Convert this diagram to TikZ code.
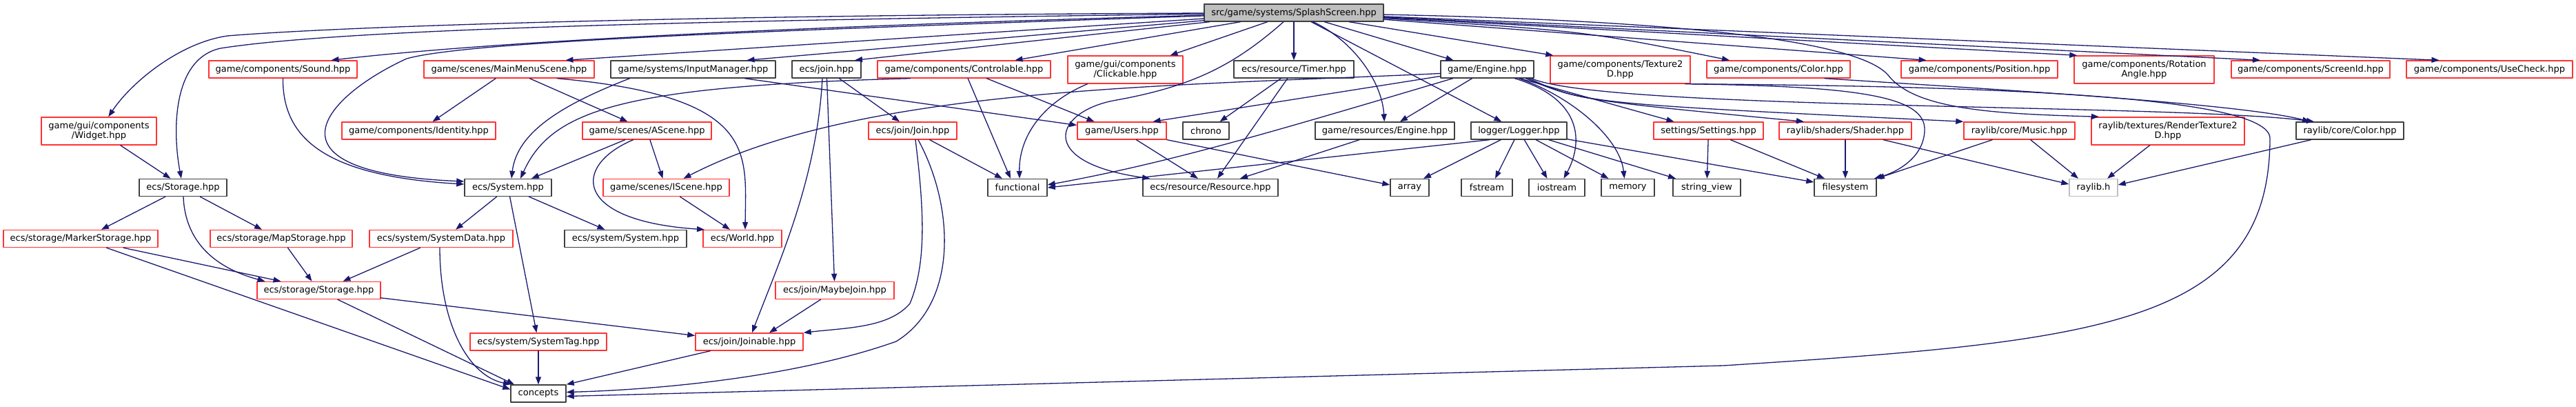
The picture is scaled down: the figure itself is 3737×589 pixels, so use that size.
\documentclass[tikz,border=0pt]{standalone}
\usepackage{fontspec}
\setmainfont{DejaVu Sans}
\usetikzlibrary{arrows.meta,backgrounds}
\definecolor{depblue}{HTML}{191970}
\definecolor{filered}{HTML}{FF3333}
\definecolor{fileblack}{HTML}{404040}
\definecolor{filegray}{HTML}{BFBFBF}

\begin{document}
\begin{tikzpicture}[
  line cap=round,
  line join=round,
  x=1pt,
  y=-1pt,
  show background rectangle,
  inner frame sep=0pt,
  background rectangle/.style={
    fill=white,
    draw=none,
  },
  filebox/.style={draw=fileblack, fill=white, line width=1.4pt, inner sep=0pt, minimum height=25pt, font=\fontsize{13}{14.5}\selectfont},
  redbox/.style={filebox, draw=filered},
  twoline/.style={minimum height=40pt, align=center},
  dep/.style={depblue, line width=1.3pt, -{Triangle[length=11pt,width=8pt]}},
]

  \useasboundingbox (0,0) rectangle (3737,589);

  \node[filebox, fill=filegray, minimum width=260pt] (root) at (1877,18.5) {src/game/systems/SplashScreen.hpp};

  \node[redbox, minimum width=215pt] (sound) at (410.5,100.5) {game/components/Sound.hpp};
  \node[redbox, minimum width=247pt] (mainmenu) at (738.5,100.5) {game/scenes/MainMenuScene.hpp};
  \node[filebox, minimum width=239pt] (input) at (1005.5,100.5) {game/systems/InputManager.hpp};
  \node[filebox, minimum width=100pt] (join) at (1199,100.5) {ecs/join.hpp};
  \node[redbox, minimum width=251pt] (ctrl) at (1398.5,100.5) {game/components/Controlable.hpp};
  \node[redbox, twoline, minimum width=167pt] (click) at (1632.5,101) {game/gui/components\\/Clickable.hpp};
  \node[filebox, minimum width=174pt] (timer) at (1877,100.5) {ecs/resource/Timer.hpp};
  \node[filebox, minimum width=135pt] (engine) at (2157.5,100.5) {game/Engine.hpp};
  \node[redbox, twoline, minimum width=203pt] (tex) at (2350.5,101) {game/components/Texture2\\D.hpp};
  \node[redbox, minimum width=208pt] (ccolor) at (2580,100.5) {game/components/Color.hpp};
  \node[redbox, minimum width=227pt] (pos) at (2871.5,100.5) {game/components/Position.hpp};
  \node[redbox, twoline, minimum width=203pt] (rot) at (3110.5,101) {game/components/Rotation\\Angle.hpp};
  \node[redbox, minimum width=230pt] (screen) at (3352,100.5) {game/components/ScreenId.hpp};
  \node[redbox, minimum width=241pt] (usecheck) at (3611.5,100.5) {game/components/UseCheck.hpp};

  \node[redbox, twoline, minimum width=167pt] (widget) at (143.5,190) {game/gui/components\\/Widget.hpp};
  \node[redbox, minimum width=223pt] (identity) at (607.5,189.5) {game/components/Identity.hpp};
  \node[redbox, minimum width=187pt] (ascene) at (938.5,189.5) {game/scenes/AScene.hpp};
  \node[redbox, minimum width=128pt] (joinj) at (1324,189.5) {ecs/join/Join.hpp};
  \node[redbox, minimum width=129pt] (users) at (1627.5,189.5) {game/Users.hpp};
  \node[filebox, minimum width=67pt] (chrono) at (1749.5,189.5) {chrono};
  \node[filebox, minimum width=202pt] (rengine) at (2009,189.5) {game/resources/Engine.hpp};
  \node[filebox, minimum width=139pt] (logger) at (2203.5,189.5) {logger/Logger.hpp};
  \node[redbox, minimum width=159pt] (settings) at (2478.5,189.5) {settings/Settings.hpp};
  \node[redbox, minimum width=192pt] (shader) at (2677,189.5) {raylib/shaders/Shader.hpp};
  \node[redbox, minimum width=161pt] (music) at (2929.5,189.5) {raylib/core/Music.hpp};
  \node[redbox, twoline, minimum width=222pt] (rtex) at (3145,190) {raylib/textures/RenderTexture2\\D.hpp};
  \node[filebox, minimum width=156pt] (rcolor) at (3409,189.5) {raylib/core/Color.hpp};

  \node[filebox, minimum width=127pt] (storage) at (265.5,272) {ecs/Storage.hpp};
  \node[filebox, minimum width=126pt] (system) at (737,272) {ecs/System.hpp};
  \node[redbox, minimum width=183pt] (iscene) at (966.5,272) {game/scenes/IScene.hpp};
  \node[filebox, minimum width=86pt] (functional) at (1476,272) {functional};
  \node[filebox, minimum width=196pt] (resource) at (1756,272) {ecs/resource/Resource.hpp};
  \node[filebox, minimum width=56pt] (array) at (2045,272) {array};
  \node[filebox, minimum width=74pt] (fstream) at (2157,272) {fstream};
  \node[filebox, minimum width=81pt] (iostream) at (2258.5,272) {iostream};
  \node[filebox, minimum width=77pt] (memory) at (2361.5,272) {memory};
  \node[filebox, minimum width=98pt] (stringview) at (2476,272) {string\_view};
  \node[filebox, minimum width=90pt] (filesystem) at (2677,272) {filesystem};
  \node[filebox, draw=filegray, minimum width=70pt] (raylibh) at (3037,272) {raylib.h};

  \node[redbox, minimum width=224pt] (marker) at (117,346) {ecs/storage/MarkerStorage.hpp};
  \node[redbox, minimum width=206pt] (map) at (408,346) {ecs/storage/MapStorage.hpp};
  \node[redbox, minimum width=208pt] (sysdata) at (640,346) {ecs/system/SystemData.hpp};
  \node[filebox, minimum width=177pt] (syssys) at (907.5,346) {ecs/system/System.hpp};
  \node[redbox, minimum width=114pt] (world) at (1077,346) {ecs/World.hpp};

  \node[redbox, minimum width=179pt] (sstorage) at (462.5,421) {ecs/storage/Storage.hpp};
  \node[redbox, minimum width=172pt] (maybe) at (1211,421) {ecs/join/MaybeJoin.hpp};

  \node[redbox, minimum width=198pt] (systag) at (781,495.5) {ecs/system/SystemTag.hpp};
  \node[redbox, minimum width=156pt] (joinable) at (1087,495.5) {ecs/join/Joinable.hpp};

  \node[filebox, minimum width=80pt] (concepts) at (781,570.5) {concepts};

  \draw[dep] (root) .. controls (1000,22) and (500,38) .. (330,52) .. controls (260,62) and (190,120) .. (widget);
  \draw[dep] (root) .. controls (1000,30) and (500,42) .. (320,70) .. controls (250,85) and (250,190) .. (storage);
  \draw[dep] (root) .. controls (1100,40) and (700,62) .. ([xshift=70]sound.north);
  \draw[dep] (root) .. controls (1100,45) and (680,60) .. (590,85) .. controls (470,140) and (370,250) .. ([yshift=9]system.west);
  \draw[dep] (root) -- ([xshift=82]mainmenu.north);
  \draw[dep] (root) -- ([xshift=78]input.north);
  \draw[dep] (root) -- ([xshift=41]join.north);
  \draw[dep] (root) -- ([xshift=74]ctrl.north);
  \draw[dep] (root) -- ([xshift=65]click.north);
  \draw[dep] (root) -- (timer);
  \draw[dep] (root) -- ([xshift=-49]engine.north);
  \draw[dep] (root) -- ([xshift=5]tex.north west);
  \draw[dep] (root) .. controls (2300,45) .. ([xshift=-71]ccolor.north);
  \draw[dep] (root) -- ([xshift=-77]pos.north);
  \draw[dep] (root) -- ([xshift=5]rot.north west);
  \draw[dep] (root) -- ([xshift=-73]screen.north);
  \draw[dep] (root) -- ([xshift=-73]usecheck.north);
  \draw[dep] (root) .. controls (1965,60) and (2005,120) .. (rengine);
  \draw[dep] (root) -- (logger);
  \draw[dep] (root) .. controls (1790,95) and (1730,125) .. (1620,145) .. controls (1530,160) and (1500,235) .. ([xshift=-88]resource.north);
  \draw[dep] (root) .. controls (2450,30) and (2700,60) .. (2740,110) .. controls (2780,160) and (2900,165) .. ([xshift=-100]rtex.north);

  \draw[dep] (sound) .. controls (410,200) and (470,255) .. ([yshift=5]system.west);
  \draw[dep] (widget) -- ([xshift=-18]storage.north);
  \draw[dep] (storage) -- ([xshift=30]marker.north);
  \draw[dep] (storage) -- ([xshift=-28]map.north);
  \draw[dep] (storage) .. controls (268,340) and (300,385) .. ([xshift=-78]sstorage.north);
  \draw[dep] (marker) -- ([xshift=-55]sstorage.north);
  \draw[dep] (marker) -- ([yshift=6]concepts.west);
  \draw[dep] (map) -- ([xshift=-10]sstorage.north);
  \draw[dep] (sysdata) -- ([xshift=35]sstorage.north);
  \draw[dep] ([xshift=-2]sysdata.south) .. controls (638,470) and (680,545) .. ([xshift=-40]concepts.north);
  \draw[dep] (sstorage) -- ([xshift=-35]concepts.north);
  \draw[dep] (sstorage) -- ([yshift=9]joinable.west);
  \draw[dep] (system) -- ([xshift=21]sysdata.north);
  \draw[dep] (system) -- (systag);
  \draw[dep] (system) -- ([xshift=-30]syssys.north);
  \draw[dep] (systag) -- (concepts);
  \draw[dep] (joinable) -- (concepts.north east);
  \draw[dep] (maybe) -- ([xshift=29]joinable.north);

  \draw[dep] (mainmenu) -- ([xshift=20]identity.north);
  \draw[dep] (mainmenu) -- ([xshift=-28]ascene.north);
  \draw[dep] ([xshift=70]mainmenu.south) .. controls (1100,140) and (1082,220) .. ([xshift=4]world.north);
  \draw[dep] (ascene) -- ([xshift=34]system.north);
  \draw[dep] (ascene) -- ([xshift=-5]iscene.north);
  \draw[dep] ([xshift=-20]ascene.south) .. controls (830,240) and (830,320) .. ([xshift=-55]world.north);
  \draw[dep] (iscene) -- ([xshift=-18]world.north);
  \draw[dep] ([xshift=-92]input.south) .. controls (820,150) and (750,190) .. ([xshift=5]system.north);
  \draw[dep] ([xshift=75]input.south) -- ([yshift=8]users.west);

  \draw[dep] (join) -- ([xshift=-19]joinj.north);
  \draw[dep] (join) -- (maybe);
  \draw[dep] ([xshift=-6]join.south) .. controls (1185,260) and (1130,380) .. ([xshift=4]joinable.north);
  \draw[dep] (joinj) -- ([xshift=-22]functional.north);
  \draw[dep] ([xshift=4]joinj.south) .. controls (1340,300) and (1345,380) .. (1320,440) .. controls (1290,475) and (1230,475) .. (joinable.north east);
  \draw[dep] ([xshift=8]joinj.south) .. controls (1385,300) and (1390,440) .. (1300,495) .. controls (1150,548) and (950,565) .. ([yshift=2]concepts.east);

  \draw[dep] ([xshift=-78]ctrl.south) .. controls (900,125) and (800,160) .. ([xshift=18]system.north);
  \draw[dep] (ctrl) -- ([xshift=-10]functional.north);
  \draw[dep] (ctrl) -- ([xshift=-40]users.north);
  \draw[dep] ([xshift=-55]click.south) .. controls (1510,150) and (1478,200) .. ([xshift=3]functional.north);
  \draw[dep] (timer) -- ([xshift=20]chrono.north);
  \draw[dep] (timer) -- ([xshift=10]resource.north);
  \draw[dep] (users) -- ([xshift=-18]resource.north);
  \draw[dep] (users) -- ([yshift=4]array.west);

  \draw[dep] ([yshift=-6]engine.west) .. controls (1700,125) and (1250,125) .. ([xshift=25]iscene.north);
  \draw[dep] ([yshift=-10]engine.west) -- ([xshift=45]users.north);
  \draw[dep] ([xshift=-50]engine.south) .. controls (1850,190) and (1700,235) .. ([yshift=4]functional.east);
  \draw[dep] (engine) -- ([xshift=22]rengine.north);
  \draw[dep] ([xshift=40]engine.south) .. controls (2300,145) and (2295,210) .. ([xshift=10]iostream.north);
  \draw[dep] ([xshift=46]engine.south) .. controls (2280,140) and (2350,200) .. ([xshift=-5]memory.north);
  \draw[dep] (engine) -- ([xshift=-50]settings.north);
  \draw[dep] ([xshift=56]engine.south) .. controls (2290,145) .. ([xshift=-60]shader.north);
  \draw[dep] ([xshift=60]engine.south) .. controls (2300,150) .. (music.north west);
  \draw[dep] ([xshift=64]engine.south) .. controls (2330,160) and (3150,150) .. ([xshift=-52]rcolor.north);
  \draw[dep] ([xshift=67]ccolor.south) .. controls (2900,130) and (3250,150) .. ([xshift=-58]rcolor.north);
  \draw[dep] ([xshift=-8]tex.south east) .. controls (2700,125) and (2795,140) .. (2792,190) .. controls (2790,230) and (2750,250) .. ([xshift=42]filesystem.north);
  \draw[dep] (tex.south east) .. controls (2900,125) and (3290,140) .. (3293,200) .. controls (3293,470) and (3050,495) .. (2500,530) -- ([yshift=-4]concepts.east);

  \draw[dep] ([xshift=-37]rengine.south) -- ([xshift=43]resource.north);
  \draw[dep] ([xshift=-43]logger.south) -- (functional.east);
  \draw[dep] (logger) -- ([xshift=20]array.north);
  \draw[dep] (logger) -- ([xshift=12]fstream.north);
  \draw[dep] (logger) -- ([xshift=-14]iostream.north);
  \draw[dep] (logger) -- ([xshift=-28]memory.north);
  \draw[dep] (logger) -- ([xshift=-45]stringview.north);
  \draw[dep] (logger) -- ([yshift=8]filesystem.west);
  \draw[dep] (settings) -- (stringview);
  \draw[dep] (settings) -- ([xshift=-30]filesystem.north);
  \draw[dep] (shader) -- (filesystem);
  \draw[dep] (shader) -- ([yshift=5]raylibh.west);
  \draw[dep] (music) -- (filesystem.north east);
  \draw[dep] (music) -- ([xshift=-22]raylibh.north);
  \draw[dep] (rtex) -- ([xshift=20]raylibh.north);
  \draw[dep] (rcolor) -- ([yshift=4]raylibh.east);

\end{tikzpicture}
\end{document}
